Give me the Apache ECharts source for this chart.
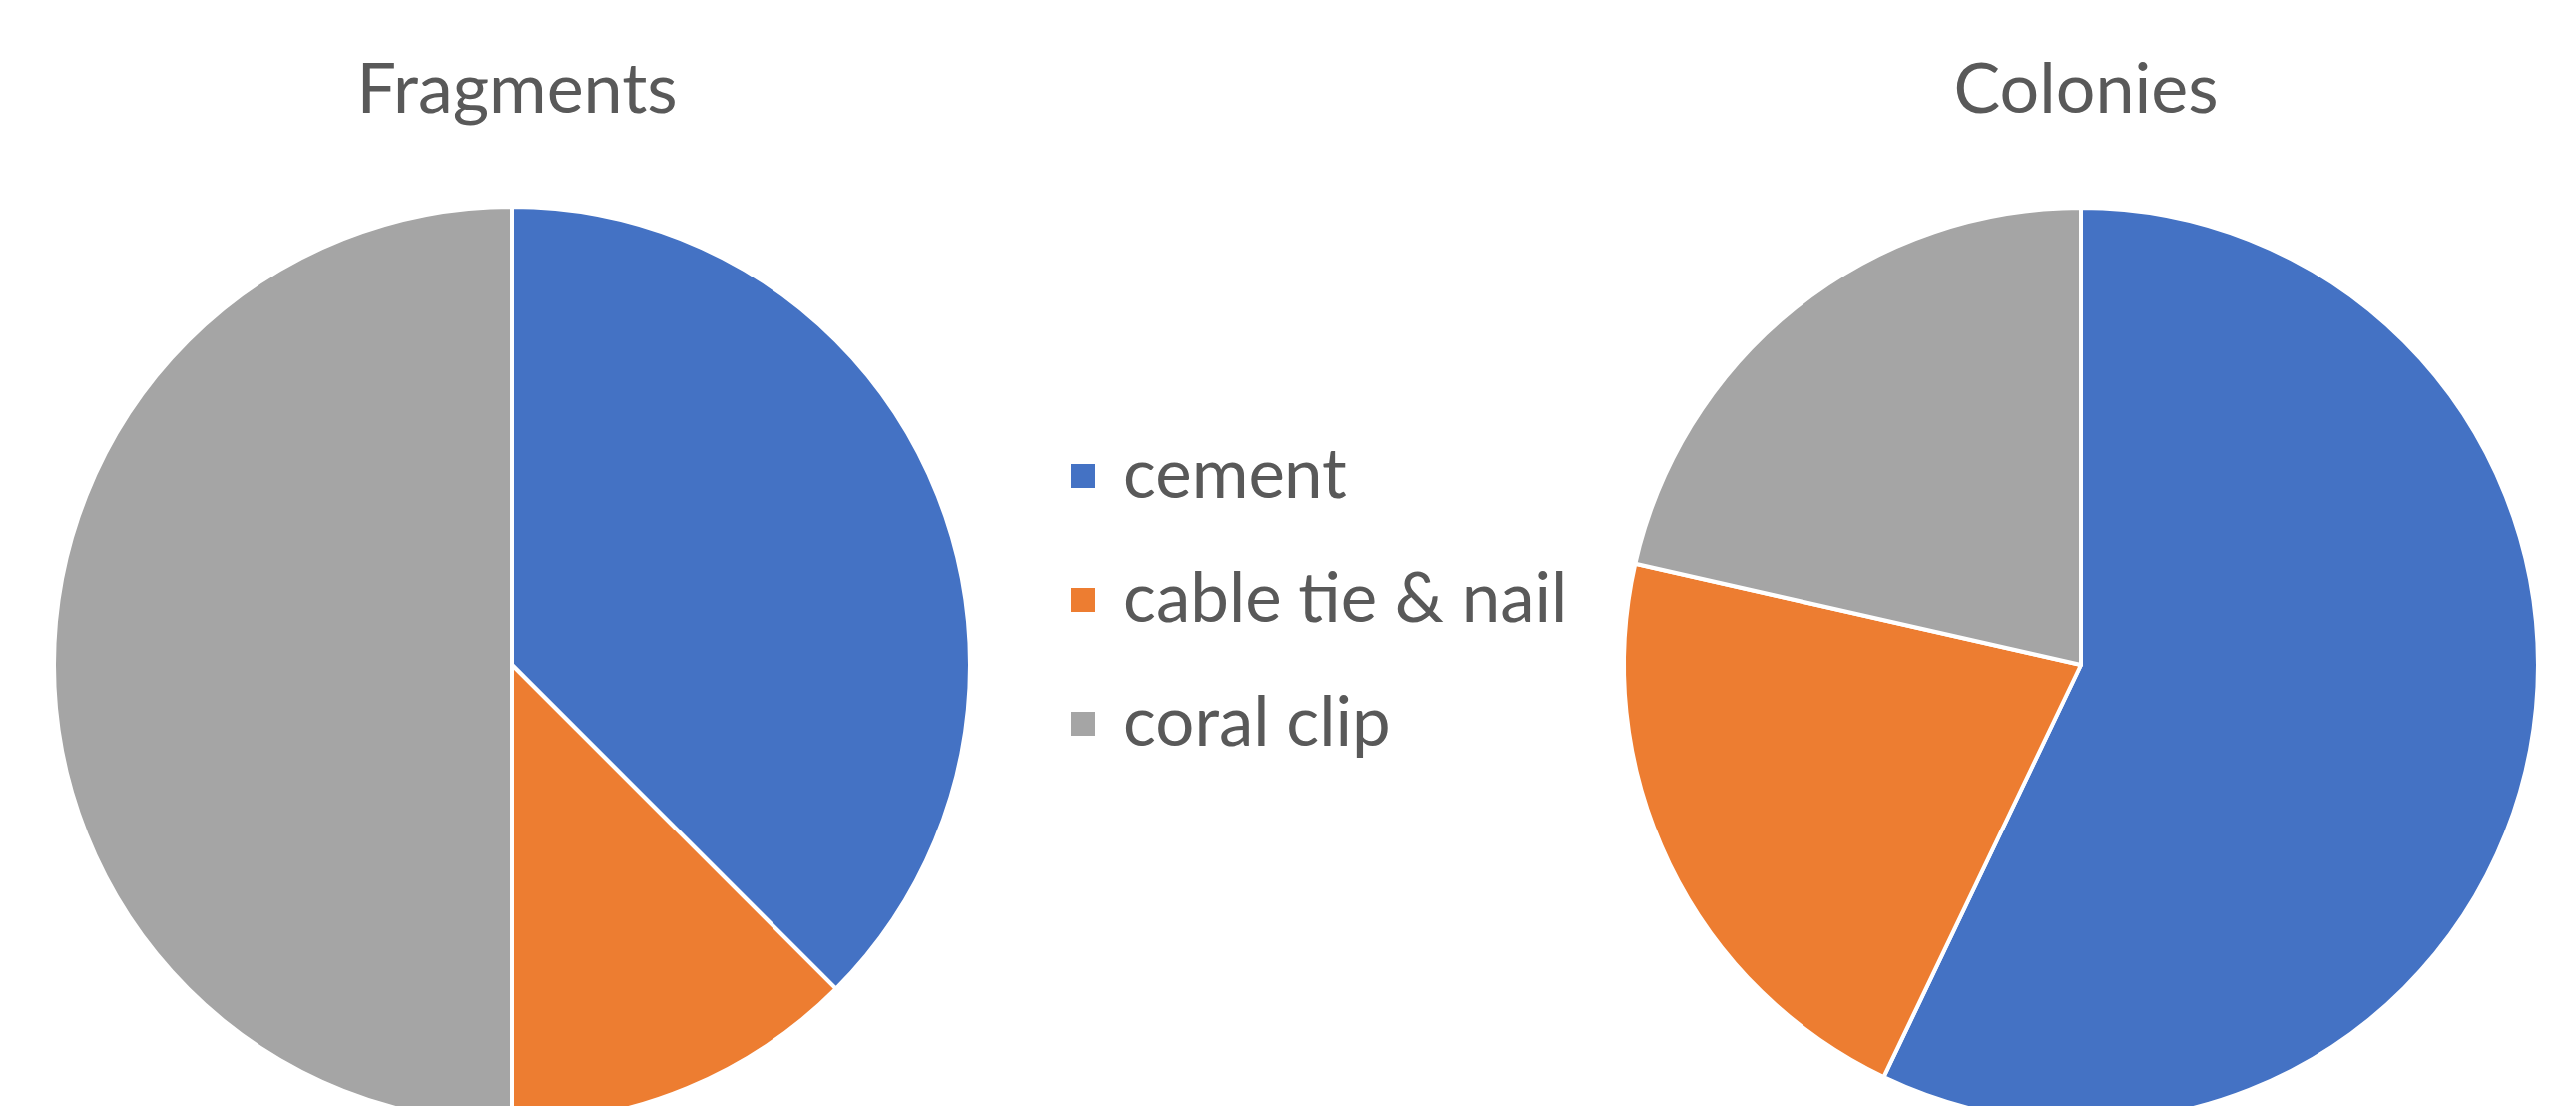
<!DOCTYPE html>
<html>
<head>
<meta charset="utf-8">
<script src="https://cdn.jsdelivr.net/npm/echarts@6/dist/echarts.min.js"></script>
<style>
html,body{margin:0;padding:0;background:#fff;}
#c{width:2581px;height:1108px;}
</style>
</head>
<body>
<div id="c"></div>
<script>
const categories = ['cement', 'cable tie & nail', 'coral clip'];
const fragmentsValues = [37.5, 12.5, 50];
const coloniesValues = [57.1, 21.45, 21.45];
const chartTitles = ['Fragments', 'Colonies'];
const colors = ['#4472C4', '#ED7D31', '#A5A5A5'];

const chart = echarts.init(document.getElementById('c'), null, {renderer: 'canvas'});
const font = 'Lato, "Open Sans", sans-serif';
function toData(vals) {
  return categories.map((n, i) => ({name: n, value: vals[i]}));
}
chart.setOption({
  animation: false,
  color: colors,
  title: [
    {text: chartTitles[0], left: 513, top: 45, textAlign: 'center',
     textStyle: {fontFamily: font, fontSize: 70, fontWeight: 'normal', color: '#595959', lineHeight: 80}},
    {text: chartTitles[1], left: 2085, top: 45, textAlign: 'center',
     textStyle: {fontFamily: font, fontSize: 70, fontWeight: 'normal', color: '#595959', lineHeight: 80}}
  ],
  legend: {
    orient: 'vertical',
    left: 1066,
    top: 437,
    icon: 'rect',
    itemWidth: 26,
    itemHeight: 26,
    itemGap: 54,
    selectedMode: false,
    data: categories,
    textStyle: {fontFamily: font, fontSize: 69, color: '#595959', lineHeight: 70, padding: [0, 0, 0, 22]}
  },
  series: [
    {type: 'pie', center: [513, 666], radius: 459, startAngle: 90, clockwise: true,
     label: {show: false}, labelLine: {show: false},
     itemStyle: {borderColor: '#fff', borderWidth: 4},
     data: toData(fragmentsValues)},
    {type: 'pie', center: [2085, 666], radius: 458, startAngle: 90, clockwise: true,
     label: {show: false}, labelLine: {show: false},
     itemStyle: {borderColor: '#fff', borderWidth: 4},
     data: toData(coloniesValues)}
  ]
});
</script>
</body>
</html>
